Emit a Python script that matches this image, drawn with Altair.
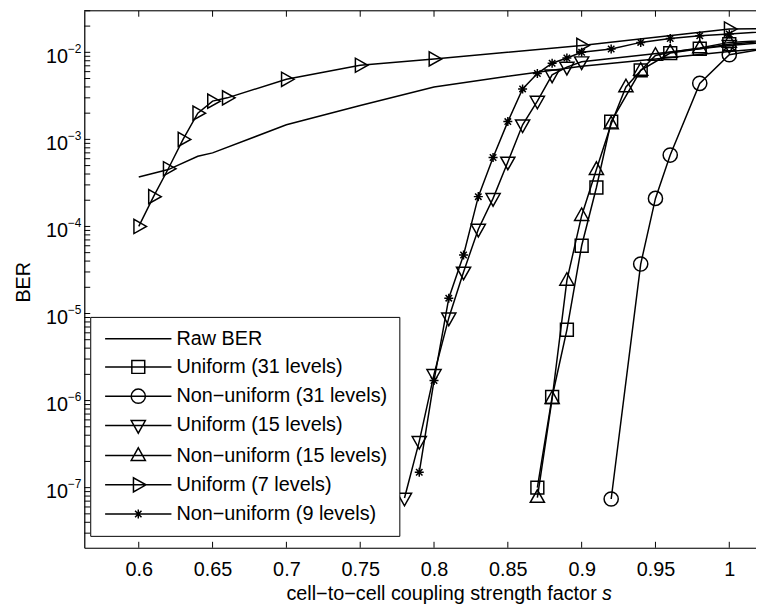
import altair as alt
import pandas as pd

# ---------------- data ----------------
series_names = ["Raw BER", "Uniform (31 levels)", "Non−uniform (31 levels)",
                "Uniform (15 levels)", "Non−uniform (15 levels)",
                "Uniform (7 levels)", "Non−uniform (9 levels)"]

raw_s = [0.60, 0.62, 0.64, 0.65, 0.70, 0.75, 0.80, 0.85, 0.90, 0.95, 1.00, 1.05]
raw_ber = [3.7e-4, 4.5e-4, 6.4e-4, 7.0e-4, 1.47e-3, 2.45e-3, 4.0e-3, 5.3e-3, 6.9e-3, 8.4e-3, 1.02e-2, 1.2e-2]

u31_s = [0.87, 0.88, 0.89, 0.90, 0.91, 0.92, 0.94, 0.96, 0.98, 1.00, 1.05]
u31_ber = [1.0e-7, 1.1e-6, 6.5e-6, 6.0e-5, 2.8e-4, 1.6e-3, 6.2e-3, 9.8e-3, 1.1e-2, 1.24e-2, 1.45e-2]

n31_s = [0.92, 0.94, 0.95, 0.96, 0.98, 1.00, 1.05]
n31_ber = [7.4e-8, 3.7e-5, 2.1e-4, 6.6e-4, 4.4e-3, 9.4e-3, 1.3e-2]

u15_s = [0.78, 0.79, 0.80, 0.81, 0.82, 0.83, 0.84, 0.85, 0.86, 0.87, 0.88, 0.89, 0.90, 1.00, 1.05]
u15_ber = [7.6e-8, 3.4e-7, 2.0e-6, 8.9e-6, 3.0e-5, 9.3e-5, 2.1e-4, 5.5e-4, 1.47e-3, 2.75e-3,
           5.5e-3, 6.75e-3, 7.8e-3, 1.2e-2, 1.4e-2]

n15_s = [0.87, 0.88, 0.89, 0.90, 0.91, 0.92, 0.93, 0.94, 0.95, 0.96, 0.98, 1.00, 1.05]
n15_ber = [7.7e-8, 1.05e-6, 2.4e-5, 1.33e-4, 4.5e-4, 1.5e-3, 4.0e-3, 6.2e-3, 9.2e-3, 1.0e-2,
           1.12e-2, 1.3e-2, 1.45e-2]

u7_s = [0.60, 0.61, 0.62, 0.63, 0.64, 0.65, 0.66, 0.70, 0.75, 0.80, 0.90, 1.00, 1.05]
u7_ber = [1.0e-4, 2.2e-4, 4.6e-4, 1.0e-3, 2.0e-3, 2.75e-3, 3.0e-3, 4.9e-3, 7.1e-3, 8.4e-3,
          1.2e-2, 1.85e-2, 1.9e-2]

n9_s = [0.79, 0.80, 0.81, 0.82, 0.83, 0.84, 0.85, 0.86, 0.87, 0.88, 0.89, 0.90, 0.92, 0.94,
        0.96, 0.98, 1.00, 1.05]
n9_ber = [1.5e-7, 1.7e-6, 1.5e-5, 4.7e-5, 2.2e-4, 6.2e-4, 1.6e-3, 3.8e-3, 5.7e-3, 7.5e-3,
          8.6e-3, 1.0e-2, 1.09e-2, 1.3e-2, 1.44e-2, 1.55e-2, 1.62e-2, 1.85e-2]

x_tick_values = [0.6, 0.65, 0.7, 0.75, 0.8, 0.85, 0.9, 0.95, 1.0]
y_major_exponents = [-7, -6, -5, -4, -3, -2]
y_minor_multipliers = [2, 3, 4, 5, 6, 7, 8, 9]

x_domain = [0.5631, 1.0181]
y_domain = [2.04e-8, 3.0e-2]

# ---------------- marker shapes (unit square paths) ----------------
marker_paths = {
    "Uniform (31 levels)": "M-1,-1H1V1H-1Z",
    "Non−uniform (31 levels)": "M-1.1,0A1.1,1.1,0,1,1,1.1,0A1.1,1.1,0,1,1,-1.1,0Z",
    "Uniform (15 levels)": "M-1.1,-0.75L1.1,-0.75L0,1.2Z",
    "Non−uniform (15 levels)": "M-1.1,0.75L1.1,0.75L0,-1.2Z",
    "Uniform (7 levels)": "M-0.75,-1.1L-0.75,1.1L1.2,0Z",
    "Non−uniform (9 levels)": "M0,-0.7V0.7M-0.7,0H0.7M-0.5,-0.5L0.5,0.5M-0.5,0.5L0.5,-0.5",
}
LINE = "M-5.15,0H5.15"
legend_paths = [LINE] + [LINE + marker_paths[n] for n in series_names[1:]]

W, H = 678, 542
FONT = "Liberation Sans"

rows = []
for name, xs, ys in zip(series_names,
                        [raw_s, u31_s, n31_s, u15_s, n15_s, u7_s, n9_s],
                        [raw_ber, u31_ber, n31_ber, u15_ber, n15_ber, u7_ber, n9_ber]):
    for s, b in zip(xs, ys):
        rows.append({"series": name, "s": s, "ber": b})
df = pd.DataFrame(rows)
df_pts = df[df["series"] != "Raw BER"]

xs_scale = alt.Scale(domain=x_domain, nice=False, zero=False)
ys_scale = alt.Scale(type="log", domain=y_domain, nice=False)

X_AXIS = alt.Axis(values=x_tick_values, format="~g", labelFont=FONT, labelFontSize=20,
                  labelColor="black", ticks=False, tickSize=0, labelPadding=12,
                  labelFlush=False, labelOverlap=False, grid=False,
                  domainColor="black", domainWidth=1.2,
                  title="cell−to−cell coupling strength factor", titleFont=FONT,
                  titleFontSize=20, titleFontWeight="normal", titleColor="black",
                  titleX=203.5, titleY=52.5, titleAlign="left", titleBaseline="alphabetic")
Y_AXIS = alt.Axis(values=[10.0 ** e for e in y_major_exponents], labelExpr="'10'",
                  labelFont=FONT, labelFontSize=20, labelColor="black", ticks=False,
                  tickSize=0, labelPadding=17, labelOffset=4, labelBaseline="middle",
                  labelOverlap=False, labelFlush=False, grid=False,
                  domainColor="black", domainWidth=1.2,
                  title="BER", titleFont=FONT, titleFontSize=20, titleFontWeight="normal",
                  titleColor="black", titleX=-55, titleY=273.5, titleAngle=270,
                  titleAlign="center", titleBaseline="alphabetic")

X = alt.X("s:Q", scale=xs_scale, axis=X_AXIS)
Y = alt.Y("ber:Q", scale=ys_scale, axis=Y_AXIS)

lines = alt.Chart(df).mark_line(color="black", strokeWidth=1.5, clip=True).encode(
    x=X, y=Y, detail="series:N", order="s:Q")

points = alt.Chart(df_pts).mark_point(filled=False, color="black", strokeWidth=1.5,
                                      size=169, clip=True, opacity=1).encode(
    x=X, y=Y,
    shape=alt.Shape("series:N",
                    scale=alt.Scale(domain=series_names[1:],
                                    range=[marker_paths[n] for n in series_names[1:]]),
                    legend=None))

legend_layer = alt.Chart(df).mark_point(filled=False, color="black", opacity=0,
                                        clip=True).encode(
    x=X, y=Y,
    shape=alt.Shape("series:N",
                    scale=alt.Scale(domain=series_names, range=legend_paths),
                    legend=alt.Legend(title=None, orient="none", legendX=6, legendY=309,
                                      direction="vertical",
                                      strokeColor="black", fillColor="white", padding=12,
                                      labelFont=FONT, labelFontSize=20, labelColor="black",
                                      labelLimit=500, rowPadding=8.5,
                                      symbolSize=169, symbolStrokeWidth=1.5,
                                      symbolStrokeColor="black",
                                      symbolFillColor="transparent", symbolOpacity=1,
                                      symbolOffset=26.5, labelOffset=28.5)))

# tick marks (inward, MATLAB style)
y_tick_vals = [10.0 ** e for e in y_major_exponents]
for k in range(-8, -1):
    for m in y_minor_multipliers:
        v = m * 10.0 ** k
        if y_domain[0] <= v <= y_domain[1]:
            y_tick_vals.append(v)
df_yt = pd.DataFrame({"ber": y_tick_vals})
df_xt = pd.DataFrame({"s": x_tick_values})

left_ticks = alt.Chart(df_yt).mark_rule(color="black", strokeWidth=1).encode(
    y=Y, x=alt.value(0), x2=alt.value(6))
bottom_ticks = alt.Chart(df_xt).mark_rule(color="black", strokeWidth=1).encode(
    x=X, y=alt.value(H), y2=alt.value(H - 6))
top_ticks = alt.Chart(df_xt).mark_rule(color="black", strokeWidth=1).encode(
    x=X, y=alt.value(0), y2=alt.value(6))
top_border = alt.Chart(pd.DataFrame({"a": [0]})).mark_rule(color="black", strokeWidth=1.2).encode(
    x=alt.value(0), x2=alt.value(W), y=alt.value(0))

df_exp = pd.DataFrame({"ber": [10.0 ** e for e in y_major_exponents],
                       "lab": ["−" + str(-e) for e in y_major_exponents]})
exponents = alt.Chart(df_exp).mark_text(align="left", baseline="middle", fontSize=12,
                                        font=FONT, color="black", dy=-3.5).encode(
    x=alt.value(-16.5), y=Y, text="lab:N")

italic_s = alt.Chart(pd.DataFrame({"t": ["s"]})).mark_text(
    align="left", baseline="alphabetic", fontSize=20, font=FONT, fontStyle="italic",
    color="black").encode(x=alt.value(522.5), y=alt.value(H + 52.5), text="t:N")

chart = alt.layer(lines, points, legend_layer, left_ticks, bottom_ticks, top_ticks,
                  top_border, exponents, italic_s).resolve_scale(
    shape="independent").properties(
    width=W, height=H, autosize=alt.AutoSizeParams(type="none"),
    padding={"left": 77, "top": 0, "right": 0, "bottom": 56}
).configure_view(stroke=None).configure(font=FONT)

chart.save("out.html", embed_options={"renderer": "svg", "actions": False})
